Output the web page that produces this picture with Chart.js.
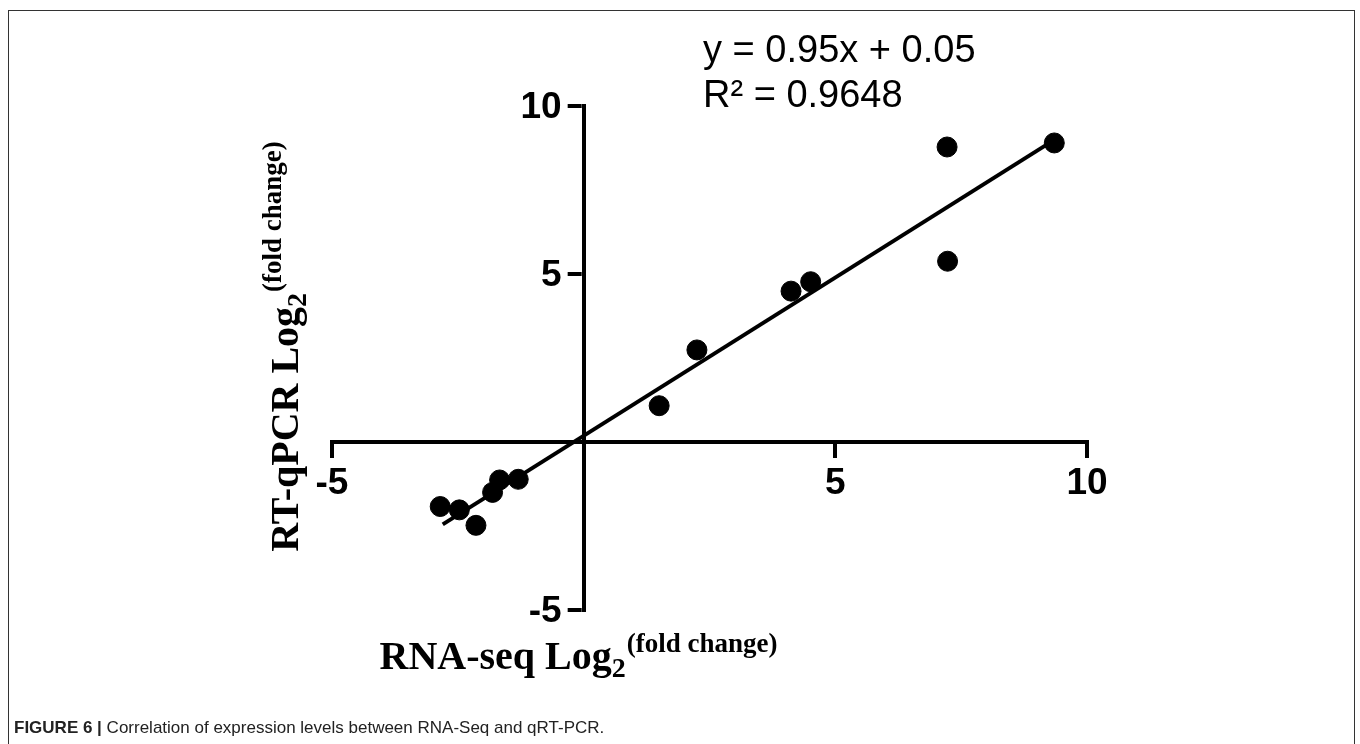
<!DOCTYPE html>
<html lang="en">
<head>
  <meta charset="UTF-8">
  <title>Correlation of expression levels between RNA-Seq and qRT-PCR</title>
  <script src="https://cdn.jsdelivr.net/npm/chart.js"></script>
  <style>
    html, body { margin: 0; padding: 0; background: #fff; }
    canvas { display: block; }
  </style>
</head>
<body>
  <canvas id="corrChart" width="1360" height="744"></canvas>

  <script>
    // RNA-seq log2 fold change (x) vs RT-qPCR log2 fold change (y)
    var rnaSeq = [-2.85, -2.47, -2.14, -1.81, -1.67, -1.30, 1.50, 2.25, 4.12, 4.51, 7.23, 7.22, 9.35];
    var rtQpcr = [-1.92, -2.02, -2.48, -1.50, -1.13, -1.11, 1.08, 2.74, 4.49, 4.77, 5.38, 8.78, 8.90];

    // ends of the drawn regression line
    var fitX = [-2.8, 9.2];
    var fitY = [-2.45, 8.85];

    var tickValues = [-5, 0, 5, 10];
    var equationLines = ['y = 0.95x + 0.05', 'R\u00B2 = 0.9648'];

    var points = rnaSeq.map(function (x, i) { return { x: x, y: rtQpcr[i] }; });
    var fitLine = fitX.map(function (x, i) { return { x: x, y: fitY[i] }; });

    var tickFontCss = 'bold 37px "Liberation Sans", Arial, sans-serif';
    var tickFont = { family: '"Liberation Sans", Arial, sans-serif', size: 37, weight: 'bold' };
    var TICK_LEN = 14;
    var AXIS_W = 4;

    function axisOptions(pos, showTicks) {
      return {
        type: 'linear',
        min: tickValues[0],
        max: tickValues[tickValues.length - 1],
        position: pos,
        afterBuildTicks: function (scale) {
          scale.ticks = tickValues.map(function (v) { return { value: v }; });
        },
        ticks: {
          display: showTicks,
          color: '#000',
          font: tickFont,
          padding: 6,
          callback: function (v) { return v === 0 ? '' : String(v); }
        },
        grid: {
          drawOnChartArea: false,
          drawTicks: showTicks,
          tickLength: TICK_LEN,
          lineWidth: AXIS_W,
          color: '#000'
        },
        border: { display: true, color: '#000', width: AXIS_W }
      };
    }

    // draws "Main Log" + subscript 2 + superscript (fold change)
    function drawAxisTitle(ctx, main, cx, baseY) {
      var mainFont = 'bold 40px "Liberation Serif", "Times New Roman", serif';
      var subFont = 'bold 28px "Liberation Serif", "Times New Roman", serif';
      var supFont = 'bold 27px "Liberation Serif", "Times New Roman", serif';
      ctx.font = mainFont;
      var w1 = ctx.measureText(main).width;
      ctx.font = subFont;
      var w2 = ctx.measureText('2').width;
      ctx.font = supFont;
      var w3 = ctx.measureText('(fold change)').width;
      var x = cx - (w1 + w2 + w3) / 2;
      ctx.textAlign = 'left';
      ctx.textBaseline = 'alphabetic';
      ctx.font = mainFont;
      ctx.fillText(main, x, baseY);
      ctx.font = subFont;
      ctx.fillText('2', x + w1, baseY + 8);
      ctx.font = supFont;
      ctx.fillText('(fold change)', x + w1 + w2 + 1, baseY - 17);
    }

    var decorations = {
      id: 'decorations',
      afterDraw: function (chart) {
        var ctx = chart.ctx;
        var xs = chart.scales.x;
        var ys = chart.scales.y;
        ctx.save();
        ctx.fillStyle = '#000';
        ctx.strokeStyle = '#000';

        // y axis sits in the middle of the plot, so its tick marks and labels go on its left side
        var axisX = xs.getPixelForValue(0);
        ctx.lineWidth = AXIS_W;
        ctx.font = tickFontCss;
        ctx.textAlign = 'right';
        ctx.textBaseline = 'middle';
        tickValues.forEach(function (v) {
          var py = ys.getPixelForValue(v);
          ctx.beginPath();
          ctx.moveTo(axisX - AXIS_W / 2, py);
          ctx.lineTo(axisX - AXIS_W / 2 - TICK_LEN, py);
          ctx.stroke();
          if (v !== 0) {
            ctx.fillText(String(v), axisX - AXIS_W / 2 - TICK_LEN - 6, py + 2);
          }
        });

        // regression text
        ctx.font = '38px "Liberation Sans", Arial, sans-serif';
        ctx.textAlign = 'left';
        ctx.textBaseline = 'alphabetic';
        ctx.fillText(equationLines[0], 703, 62);
        ctx.fillText(equationLines[1], 703, 107);

        // axis titles
        drawAxisTitle(ctx, 'RNA-seq Log', 578, 669);
        ctx.save();
        ctx.translate(298, 347);
        ctx.rotate(-Math.PI / 2);
        drawAxisTitle(ctx, 'RT-qPCR Log', 0, 0);
        ctx.restore();

        // caption
        ctx.fillStyle = '#222';
        ctx.font = 'bold 17px "Liberation Sans", Arial, sans-serif';
        var lead = 'FIGURE 6 | ';
        ctx.fillText(lead, 14, 733);
        var lw = ctx.measureText(lead).width;
        ctx.font = '17px "Liberation Sans", Arial, sans-serif';
        ctx.fillText('Correlation of expression levels between RNA-Seq and qRT-PCR.', 14 + lw, 733);

        // figure frame
        ctx.strokeStyle = '#333';
        ctx.lineWidth = 1;
        ctx.strokeRect(8.5, 10.5, 1346, 800);
        ctx.restore();
      }
    };

    var ctx = document.getElementById('corrChart').getContext('2d');
    var corrChart = new Chart(ctx, {
      type: 'scatter',
      data: {
        datasets: [
          {
            label: 'Genes',
            data: points,
            backgroundColor: '#000',
            borderColor: '#000',
            pointRadius: 10,
            pointHoverRadius: 10
          },
          {
            label: 'Linear fit',
            type: 'line',
            data: fitLine,
            borderColor: '#000',
            borderWidth: 4,
            pointRadius: 0,
            fill: false
          }
        ]
      },
      options: {
        responsive: false,
        maintainAspectRatio: false,
        animation: false,
        layout: { padding: { left: 332, right: 273, top: 106, bottom: 134 } },
        plugins: {
          legend: { display: false },
          tooltip: { enabled: false }
        },
        scales: {
          x: axisOptions({ y: 0 }, true),
          y: axisOptions({ x: 0 }, false)
        }
      },
      plugins: [decorations]
    });
  </script>
</body>
</html>
